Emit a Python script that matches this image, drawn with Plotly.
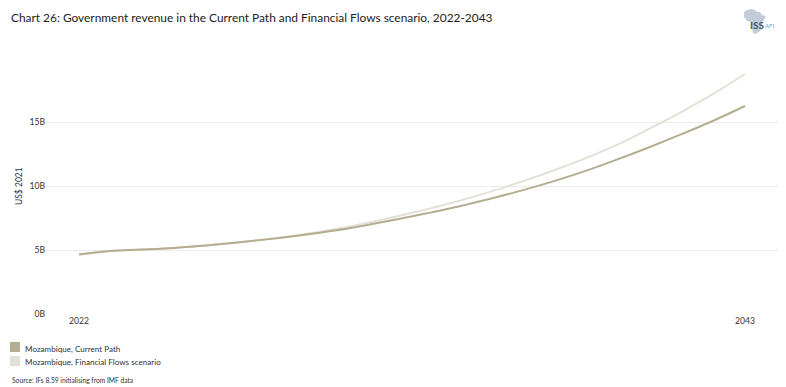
import plotly.graph_objects as go

years = list(range(2022, 2044))
current_path = [4.65, 4.93, 5.03, 5.15, 5.35, 5.58, 5.85, 6.15, 6.5, 6.92, 7.38, 7.88, 8.42, 9.02, 9.68, 10.4, 11.2, 12.1, 13.05, 14.05, 15.1, 16.25]
financial_flows = [4.65, 4.93, 5.03, 5.16, 5.36, 5.6, 5.88, 6.2, 6.6, 7.08, 7.62, 8.2, 8.85, 9.58, 10.38, 11.25, 12.2, 13.25, 14.5, 15.8, 17.2, 18.75]
tick_vals = [0, 5, 10, 15]
tick_text = ["0B", "5B", "10B", "15B"]
C1 = "#b5ad8f"
C2 = "#e3e1d6"
W, H = 786, 387
LEFT, RIGHT, TOP, BOTTOM = 46, 778, 40, 314

def px(x): return (x - LEFT) / (RIGHT - LEFT)
def py(y): return (BOTTOM - y) / (BOTTOM - TOP)

fig = go.Figure()
fig.add_trace(go.Scatter(x=years, y=financial_flows, mode="lines", line=dict(color=C2, width=2, shape="spline"), showlegend=False))
fig.add_trace(go.Scatter(x=years, y=current_path, mode="lines", line=dict(color=C1, width=2, shape="spline"), showlegend=False))

font = "Lato, Open Sans, sans-serif"
ann = [
    dict(x=9, y=17, text="Chart 26: Government revenue in the Current Path and Financial Flows scenario, 2022-2043", size=11.9, color="#222", xanchor="left"),
    dict(x=23, y=349, text="Mozambique, Current Path", size=8.1, color="#333", xanchor="left"),
    dict(x=23, y=362, text="Mozambique, Financial Flows scenario", size=8.1, color="#333", xanchor="left"),
    dict(x=10, y=380, text="Source: IFs 8.59 initialising from IMF data", size=6.7, color="#333", xanchor="left"),
    dict(x=19, y=186, text="US$ 2021", size=8.5, color="#333", xanchor="center", textangle=-90),
    dict(x=757, y=25, text="<b>ISS</b>", size=10, color="#44546a", xanchor="center"),
    dict(x=769, y=25, text="AFI", size=6, color="#6aa5d0", xanchor="center"),
]
annotations = []
for a in ann:
    annotations.append(dict(xref="paper", yref="paper", x=px(a["x"]), y=py(a["y"]), text=a["text"], showarrow=False,
                            xanchor=a["xanchor"], yanchor="middle", textangle=a.get("textangle", 0),
                            font=dict(family=font, size=a["size"], color=a["color"])))

def rect(x0, y0, x1, y1, color):
    return dict(type="rect", xref="paper", yref="paper", x0=px(x0), x1=px(x1), y0=py(y0), y1=py(y1),
                fillcolor=color, line=dict(width=0), layer="below")

africa = [(744,12),(747,10),(751,9),(755,10),(757,12),(760,12),(762,15),(766,16),(764,20),(762,23),(762,27),(760,31),(756,34),(753,33),(752,27),(751,22),(747,21),(744,17)]
path = "M" + " L".join(f"{px(x):.4f},{py(y):.4f}" for x, y in africa) + " Z"
shapes = [rect(10, 342, 20, 352, C1), rect(10, 356, 20, 366, C2),
          dict(type="path", xref="paper", yref="paper", path=path, fillcolor="#c3ccd8", line=dict(width=0), layer="below")]

fig.update_layout(
    width=W, height=H, autosize=False, paper_bgcolor="white", plot_bgcolor="white",
    margin=dict(l=LEFT, r=W - RIGHT, t=TOP, b=H - BOTTOM),
    shapes=shapes, annotations=annotations, showlegend=False,
    xaxis=dict(range=[2022 - 33 / 31.71, 2043 + 33 / 31.71], tickvals=[2022, 2043], ticktext=["2022", "2043"],
               showgrid=False, zeroline=False, showline=False, ticks="", tickfont=dict(family=font, size=8.6, color="#333")),
    yaxis=dict(range=[0, (BOTTOM - TOP) / 12.8], tickvals=tick_vals, ticktext=tick_text, showgrid=False,
               minor=dict(tickvals=[5, 10, 15], showgrid=True, gridcolor="#ececec", gridwidth=1, ticks=""),
               zeroline=False, showline=False, ticks="", tickfont=dict(family=font, size=8.6, color="#333")),
)
fig.write_html("out.html", config={"displayModeBar": False}, post_script="document.body.style.margin='0';")
